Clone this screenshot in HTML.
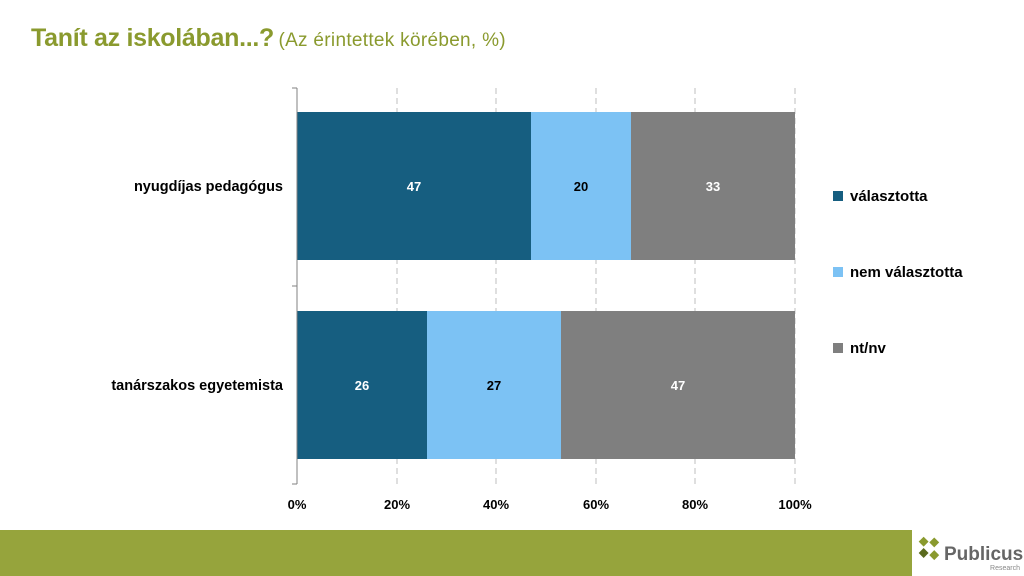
<!DOCTYPE html>
<html><head><meta charset="utf-8"><style>
body{margin:0;width:1024px;height:576px;background:#fff;position:relative;overflow:hidden;font-family:"Liberation Sans",sans-serif}
</style></head><body>
<div style="position:absolute;left:31px;top:24px;color:#8a9a2e;white-space:nowrap">
<span style="font-size:25px;font-weight:bold;letter-spacing:-0.3px">Tanít az iskolában...?</span>
<span style="font-size:19px;letter-spacing:0.3px"> (Az érintettek körében, %)</span></div>
<svg width="1024" height="576" style="position:absolute;left:0;top:0" font-family="Liberation Sans, sans-serif">
<g stroke="#bfbfbf" stroke-dasharray="6,4">
<line x1="397" y1="88" x2="397" y2="484"/><line x1="496" y1="88" x2="496" y2="484"/>
<line x1="596" y1="88" x2="596" y2="484"/><line x1="695" y1="88" x2="695" y2="484"/>
<line x1="795" y1="88" x2="795" y2="484"/></g>
<rect x="297" y="112" width="234" height="148" fill="#165e80"/>
<rect x="531" y="112" width="100" height="148" fill="#7cc2f4"/>
<rect x="631" y="112" width="164" height="148" fill="#7f7f7f"/>
<rect x="297" y="311" width="130" height="148" fill="#165e80"/>
<rect x="427" y="311" width="134" height="148" fill="#7cc2f4"/>
<rect x="561" y="311" width="234" height="148" fill="#7f7f7f"/>
<g stroke="#808080"><line x1="297" y1="88" x2="297" y2="484"/><line x1="292" y1="88" x2="297" y2="88"/><line x1="292" y1="286" x2="297" y2="286"/><line x1="292" y1="484" x2="297" y2="484"/></g>
<g font-size="13" font-weight="bold" text-anchor="middle">
<text x="414" y="191" fill="#fff">47</text><text x="581" y="191" fill="#000">20</text><text x="713" y="191" fill="#fff">33</text>
<text x="362" y="390" fill="#fff">26</text><text x="494" y="390" fill="#000">27</text><text x="678" y="390" fill="#fff">47</text>
<text x="297" y="509">0%</text><text x="397" y="509">20%</text><text x="496" y="509">40%</text><text x="596" y="509">60%</text><text x="695" y="509">80%</text><text x="795" y="509">100%</text>
</g>
<g font-size="14.5" font-weight="bold" text-anchor="end">
<text x="283" y="191">nyugdíjas pedagógus</text><text x="283" y="390">tanárszakos egyetemista</text></g>
<g font-size="15" font-weight="bold">
<rect x="833" y="191" width="10" height="10" fill="#165e80"/><text x="850" y="201">választotta</text>
<rect x="833" y="267" width="10" height="10" fill="#7cc2f4"/><text x="850" y="277">nem választotta</text>
<rect x="833" y="343" width="10" height="10" fill="#7f7f7f"/><text x="850" y="353">nt/nv</text></g>
<rect x="0" y="530" width="912" height="46" fill="#96a43c"/>
<g fill="#8a9a2e" transform="translate(930,553)">
<rect x="-5" y="-5" width="7" height="7" transform="rotate(45) translate(-3,-9)"/>
<rect x="-5" y="-5" width="7" height="7" transform="rotate(45) translate(6,0)"/>
<rect x="-5" y="-5" width="7" height="7" transform="rotate(45) translate(-3,6)" fill="#5a6a1e"/>
<rect x="-5" y="-5" width="7" height="7" transform="rotate(45) translate(-11,-2)"/></g>
<text x="944" y="560" font-size="19" font-weight="bold" fill="#666">Publicus</text>
<text x="1020" y="570" font-size="7" fill="#888" text-anchor="end">Research</text>
</svg>
</body></html>
